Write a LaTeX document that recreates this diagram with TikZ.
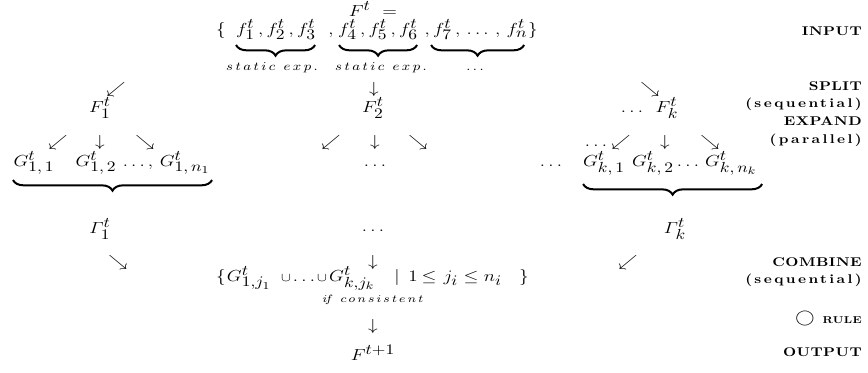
\documentclass[tikz,border=0pt]{standalone}
\usepackage{fontspec}
\newfontfamily\lblfont{lmroman10-bold}[Extension=.otf, LetterSpace=3]
\newfontfamily\lblwide{lmroman10-bold}[Extension=.otf, LetterSpace=16]
\DeclareMathSizes{12}{12}{10.5}{8.5}
\usetikzlibrary{decorations.pathreplacing}
\newcommand{\myStatExp}{$s\,t\,a\,t\,i\,c\;\;e\,x\,p\,.$}
\newcommand{\myGam}{\mathchar"0100}
\tikzset{
  m/.style={inner sep=0pt, font=\fontsize{12}{14}\selectfont},
  mb/.style={m, anchor=base},
  cupst/.style={inner sep=0pt, anchor=base, font=\fontsize{9}{11}\selectfont},
  lbl/.style={inner sep=0pt, anchor=base east, font=\fontsize{9.5}{11}\selectfont\lblfont},
  lblw/.style={inner sep=0pt, anchor=base east, font=\fontsize{9.5}{11}\selectfont\lblwide},
  brc/.style={decorate, decoration={brace, mirror, amplitude=8pt}, line width=1.5pt},
  se/.style={inner sep=0pt, anchor=base, font=\fontsize{9.5}{11}\selectfont},
}
\begin{document}
\begin{tikzpicture}[x=0.625pt,y=-0.75pt,xscale=1.2,every node/.append style={transform shape}]
\useasboundingbox (0,0) rectangle (868,372);
% ---- input
\node[m] (Ft) at (373,9) {$F^t\ =$};
\node[mb] (lb) at (221,34) {$\{$};
\node[mb] (grp1) at (276,34) {$f^t_1\,,f^t_2\,,f^t_3$};
\node[mb] (c3) at (331,34) {$,$};
\node[mb] (grp2) at (378,34) {$f^t_4\,,f^t_5\,,f^t_6$};
\node[mb] (grp3) at (476,34) {$,f^t_7\,,\,\ldots\,,\,f^t_n$};
\node[mb] (rb) at (533,34) {$\}$};
\coordinate (b1a) at (236,45); \coordinate (b1b) at (315,45);
\coordinate (b2a) at (339,45); \coordinate (b2b) at (417,45);
\coordinate (b3a) at (431,45); \coordinate (b3b) at (524,45);
\draw[brc] (b1a) -- (b1b);
\draw[brc] (b2a) -- (b2b);
\draw[brc] (b3a) -- (b3b);
\node[se] (s1) at (272,70) {\myStatExp};
\node[se] (s2) at (381,70) {\myStatExp};
\node[se] (s3) at (475,70) {$\ldots$};
% ---- split
\node[m] (a1) at (116,89) {$\swarrow$};
\node[m] (a2) at (374,89) {$\downarrow$};
\node[m] (a3) at (650,89) {$\searrow$};
\node[m] (F1) at (100,108) {$F^t_1$};
\node[m] (F2) at (373,108) {$F^t_2$};
\node[mb] (Fkd) at (632,112) {$\ldots$};
\node[m] (Fk) at (667,108) {$F^t_k$};
% ---- expand arrows
\node[m] (e11) at (58,142) {$\swarrow$};
\node[m] (e12) at (100,142) {$\downarrow$};
\node[m] (e13) at (145,142) {$\searrow$};
\node[m] (e21) at (331,142) {$\swarrow$};
\node[m] (e22) at (375,142) {$\downarrow$};
\node[m] (e23) at (418,142) {$\searrow$};
\node[mb] (ekd) at (596,146) {$\ldots$};
\node[m] (e31) at (621,142) {$\swarrow$};
\node[m] (e32) at (665,142) {$\downarrow$};
\node[m] (e33) at (710,142) {$\searrow$};
% ---- G row
\node[mb] (G11) at (34,166) {$G^t_{1,\,1}$};
\node[mb] (G12) at (96,166) {$G^t_{1,\,2}$};
\node[mb] (G1d) at (138,166) {$\ldots,$};
\node[mb] (G1n) at (185,166) {$G^t_{1,\,n_{1}}$};
\node[mb] (G2d) at (375,166) {$\ldots$};
\node[mb] (G3p) at (551,166) {$\ldots$};
\node[mb] (Gk1) at (604,166) {$G^t_{k,\,1}$};
\node[mb] (Gk2) at (653,166) {$G^t_{k,\,2}$};
\node[mb] (Gkd) at (688,166) {$\ldots$};
\node[mb] (Gkn) at (731,166) {$G^t_{k,\,n_{k}}$};
\coordinate (u1a) at (13,180); \coordinate (u1b) at (212,180);
\coordinate (u2a) at (583,184); \coordinate (u2b) at (762,184);
\draw[brc] (u1a) -- (u1b);
\draw[brc] (u2a) -- (u2b);
% ---- gamma row
\node[m] (g1) at (100,229) {$\myGam^t_1$};
\node[mb] (gd) at (373,231) {$\ldots$};
\node[m] (gk) at (675,229) {$\myGam^t_k$};
% ---- combine
\node[m] (c11) at (118,262) {$\searrow$};
\node[m] (c12) at (373,262) {$\downarrow$};
\node[m] (c13) at (628,262) {$\swarrow$};
\node[mb] (clb) at (221,281) {$\{$};
\node[mb] (cg1) at (249,281) {$G^t_{1,j_1}$};
\node[cupst] (cu1) at (286,281) {$\cup$};
\node[mb] (cdd) at (304,281) {$\ldots$};
\node[cupst] (cu2) at (322,281) {$\cup$};
\node[mb] (cgk) at (352,281) {$G^t_{k,j_k}$};
\node[mb] (bar) at (397,281) {$|$};
\node[mb] (one) at (413,281) {$1$};
\node[mb] (le1) at (429,281) {$\leq$};
\node[mb] (ji) at (451,281) {$j_i$};
\node[mb] (le2) at (471,281) {$\leq$};
\node[mb] (ni) at (493,281) {$n_i$};
\node[mb] (crb) at (524,281) {$\}$};
\node[inner sep=0pt, anchor=base, font=\fontsize{8.5}{10}\selectfont] (ifc) at (373,302) {$i\!f\;\; c\,o\,n\,s\,i\,s\,t\,e\,n\,t$};
\node[m] (o1) at (373,326) {$\downarrow$};
\node[m] (Fout) at (373,353) {$F^{t+1}$};
% ---- labels
\node[lbl] (Linput) at (862,35) {INPUT};
\node[lbl] (Lsplit) at (862,90) {SPLIT};
\node[lblw] (Lseq1) at (862,107) {(sequential)};
\node[lbl] (Lexp) at (862,125) {EXPAND};
\node[lblw] (Lpar) at (862,143) {(parallel)};
\node[lbl] (Lcomb) at (862,266) {COMBINE};
\node[lblw] (Lseq2) at (862,283) {(sequential)};
\node[lbl, font=\fontsize{7.5}{9}\selectfont\lblfont] (Lrule) at (862,323) {RULE};
\node[m, font=\fontsize{12}{14}\selectfont] (Lcirc) at (805,318) {$\bigcirc$};
\node[lbl] (Lout) at (862,356) {OUTPUT};
\end{tikzpicture}
\end{document}
